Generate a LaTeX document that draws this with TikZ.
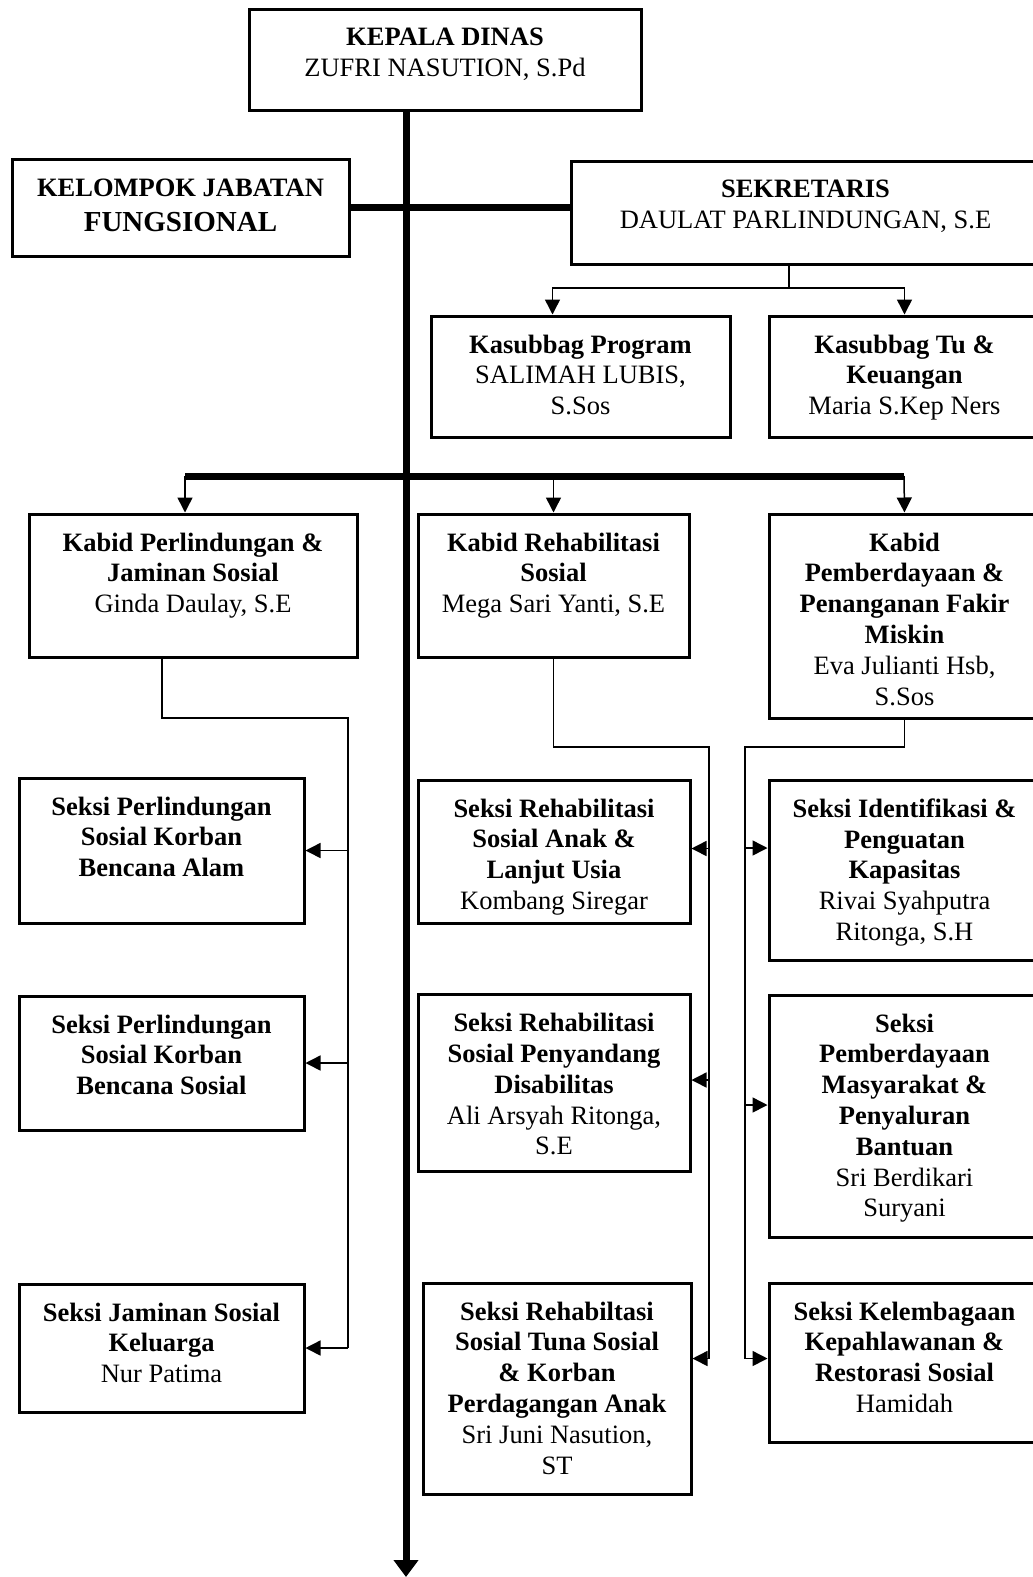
\documentclass[tikz,border=0pt]{standalone}
\usepackage{fontspec}
\setmainfont{Liberation Serif}
\usetikzlibrary{arrows.meta}

\tikzset{
  kotak/.style={draw, line width=3pt, inner sep=0pt},
  teks/.style={align=center, inner sep=0pt, anchor=north, font=\fontsize{26.5}{30.8}\selectfont},
  tipis/.style={line width=1.5pt},
  tebal/.style={line width=7pt},
}

\begin{document}
\begin{tikzpicture}[x=1pt,y=-1pt,>={Triangle[length=15pt,width=15pt]}]

\useasboundingbox (0,0) rectangle (1033,1577);

% kotak
\node[kotak, minimum width=392pt, minimum height=101pt] (kadis) at (445,59.5) {};
\node[kotak, minimum width=337pt, minimum height=97pt] (kjf) at (180.5,207.5) {};
\node[kotak, minimum width=469pt, minimum height=103pt] (sek) at (805.5,212.5) {};
\node[kotak, minimum width=299pt, minimum height=121pt] (kprog) at (580.5,376.5) {};
\node[kotak, minimum width=271pt, minimum height=121pt] (ktu) at (904.5,376.5) {};
\node[kotak, minimum width=328pt, minimum height=143pt] (kbperl) at (193,585.5) {};
\node[kotak, minimum width=271pt, minimum height=143pt] (kbrehab) at (553.5,585.5) {};
\node[kotak, minimum width=271pt, minimum height=204pt] (kbpemb) at (904.5,616) {};
\node[kotak, minimum width=285pt, minimum height=145pt] (salam) at (161.5,850.5) {};
\node[kotak, minimum width=285pt, minimum height=134pt] (ssos) at (161.5,1063) {};
\node[kotak, minimum width=285pt, minimum height=128pt] (sjam) at (161.5,1348) {};
\node[kotak, minimum width=272pt, minimum height=143pt] (sanak) at (554,851.5) {};
\node[kotak, minimum width=272pt, minimum height=177pt] (sdis) at (554,1083) {};
\node[kotak, minimum width=268pt, minimum height=211pt] (stuna) at (557,1388.5) {};
\node[kotak, minimum width=271pt, minimum height=180pt] (sident) at (904.5,870) {};
\node[kotak, minimum width=271pt, minimum height=242pt] (smas) at (904.5,1116) {};
\node[kotak, minimum width=271pt, minimum height=159pt] (skel) at (904.5,1362.5) {};

% teks
\node[teks] (kadis-t) at ([yshift=-20pt]kadis.north) {\textbf{KEPALA DINAS}\\ZUFRI NASUTION, S.Pd};
\node[teks] (kjf-t) at ([yshift=-21pt]kjf.north) {\textbf{KELOMPOK JABATAN}\\[4pt]{\fontsize{29}{33}\selectfont\textbf{FUNGSIONAL}}};
\node[teks] (sek-t) at ([yshift=-20pt]sek.north) {\textbf{SEKRETARIS}\\DAULAT PARLINDUNGAN, S.E};
\node[teks] (kprog-t) at ([yshift=-20pt]kprog.north) {\textbf{Kasubbag Program}\\SALIMAH LUBIS,\\S.Sos};
\node[teks] (ktu-t) at ([yshift=-20pt]ktu.north) {\textbf{Kasubbag Tu \&}\\\textbf{Keuangan}\\Maria S.Kep Ners};
\node[teks] (kbperl-t) at ([yshift=-20pt]kbperl.north) {\textbf{Kabid Perlindungan \&}\\\textbf{Jaminan Sosial}\\Ginda Daulay, S.E};
\node[teks] (kbrehab-t) at ([yshift=-20pt]kbrehab.north) {\textbf{Kabid Rehabilitasi}\\\textbf{Sosial}\\Mega Sari Yanti, S.E};
\node[teks] (kbpemb-t) at ([yshift=-20pt]kbpemb.north) {\textbf{Kabid}\\\textbf{Pemberdayaan \&}\\\textbf{Penanganan Fakir}\\\textbf{Miskin}\\Eva Julianti Hsb,\\S.Sos};
\node[teks] (salam-t) at ([yshift=-20pt]salam.north) {\textbf{Seksi Perlindungan}\\\textbf{Sosial Korban}\\\textbf{Bencana Alam}};
\node[teks] (ssos-t) at ([yshift=-20pt]ssos.north) {\textbf{Seksi Perlindungan}\\\textbf{Sosial Korban}\\\textbf{Bencana Sosial}};
\node[teks] (sjam-t) at ([yshift=-20pt]sjam.north) {\textbf{Seksi Jaminan Sosial}\\\textbf{Keluarga}\\Nur Patima};
\node[teks] (sanak-t) at ([yshift=-20pt]sanak.north) {\textbf{Seksi Rehabilitasi}\\\textbf{Sosial Anak \&}\\\textbf{Lanjut Usia}\\Kombang Siregar};
\node[teks] (sdis-t) at ([yshift=-20pt]sdis.north) {\textbf{Seksi Rehabilitasi}\\\textbf{Sosial Penyandang}\\\textbf{Disabilitas}\\Ali Arsyah Ritonga,\\S.E};
\node[teks] (stuna-t) at ([yshift=-20pt]stuna.north) {\textbf{Seksi Rehabiltasi}\\\textbf{Sosial Tuna Sosial}\\\textbf{\& Korban}\\\textbf{Perdagangan Anak}\\Sri Juni Nasution,\\ST};
\node[teks] (sident-t) at ([yshift=-20pt]sident.north) {\textbf{Seksi Identifikasi \&}\\\textbf{Penguatan}\\\textbf{Kapasitas}\\Rivai Syahputra\\Ritonga, S.H};
\node[teks] (smas-t) at ([yshift=-20pt]smas.north) {\textbf{Seksi}\\\textbf{Pemberdayaan}\\\textbf{Masyarakat \&}\\\textbf{Penyaluran}\\\textbf{Bantuan}\\Sri Berdikari\\Suryani};
\node[teks] (skel-t) at ([yshift=-20pt]skel.north) {\textbf{Seksi Kelembagaan}\\\textbf{Kepahlawanan \&}\\\textbf{Restorasi Sosial}\\Hamidah};

% garis utama
\coordinate (ujung) at (406,1577);
\coordinate (bidkiri) at (185,476);
\coordinate (bidkanan) at (904,476);
\draw[tebal] (kjf.east) -- (kjf.east -| sek.west);
\draw[tebal] (bidkiri) -- (bidkanan);
\draw[tebal, -{Triangle[length=17pt,width=24pt]}] (kadis.south -| ujung) -- (ujung);

% sekretariat
\coordinate (sekbawah) at (789,288);
\draw[tipis] (sek.south -| sekbawah) -- (sekbawah);
\draw[tipis, ->] (sekbawah) -| ([xshift=-28pt]kprog.north);
\draw[tipis, ->] (sekbawah) -| (ktu.north);

% bidang
\draw[tipis, ->] (bidkiri) -- (bidkiri |- kbperl.north);
\draw[tipis, ->] (kbrehab.north |- bidkiri) -- (kbrehab.north);
\draw[tipis, ->] (bidkanan) -- (kbpemb.north);

% seksi kiri
\coordinate (rel1) at (348,718);
\draw[tipis] ([xshift=-31pt]kbperl.south) |- (rel1) -- (rel1 |- sjam.east);
\foreach \s in {salam,ssos,sjam}
  \draw[tipis, ->] (\s.east -| rel1) -- (\s.east);

% seksi tengah
\coordinate (rel2) at (709,747);
\coordinate (anak-m) at ([yshift=3pt]sanak.east);
\coordinate (dis-m) at ([yshift=3pt]sdis.east);
\coordinate (tuna-m) at ([yshift=30pt]stuna.east);
\draw[tipis] (kbrehab.south) |- (rel2) -- (rel2 |- tuna-m);
\foreach \s in {anak-m,dis-m,tuna-m}
  \draw[tipis, ->] (\s -| rel2) -- (\s);

% seksi kanan
\coordinate (rel3) at (745,747);
\coordinate (ident-m) at ([yshift=22pt]sident.west);
\coordinate (mas-m) at ([yshift=11pt]smas.west);
\coordinate (kel-m) at ([yshift=4pt]skel.west);
\draw[tipis] (kbpemb.south) |- (rel3) -- (rel3 |- kel-m);
\foreach \s in {ident-m,mas-m,kel-m}
  \draw[tipis, ->] (\s -| rel3) -- (\s);

\end{tikzpicture}
\end{document}
